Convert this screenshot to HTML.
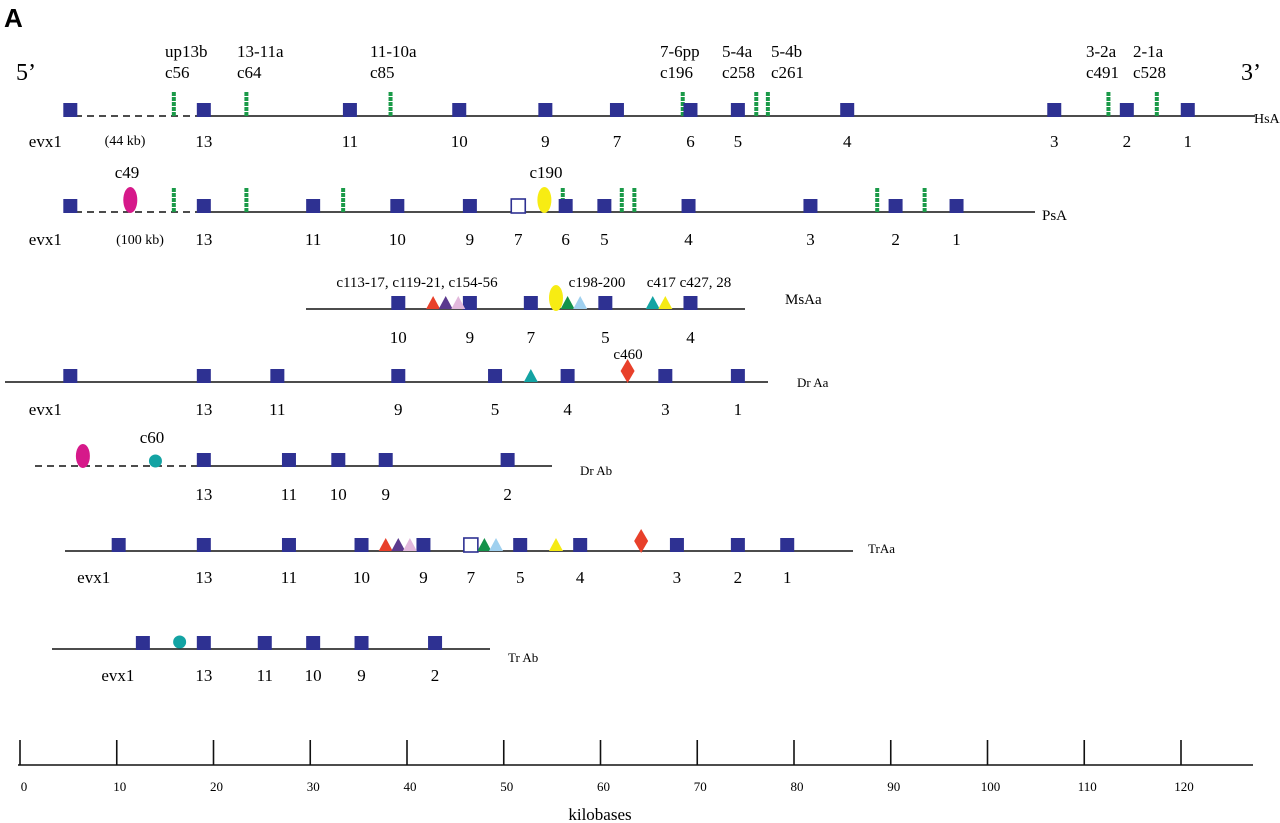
<!DOCTYPE html>
<html><head><meta charset="utf-8"><style>
html,body{margin:0;padding:0;background:#fff;}
svg{display:block;font-family:"Liberation Serif",serif;}
</style></head><body>
<svg id="fig" width="1280" height="823" viewBox="0 0 1280 823" xmlns="http://www.w3.org/2000/svg">
<text x="4" y="27" font-family="Liberation Sans,sans-serif" font-weight="bold" font-size="26">A</text>
<text x="16" y="80" font-size="24">5’</text>
<text x="1241" y="80" font-size="24">3’</text>
<g id="rows"></g>
<g id="axis"></g>
</svg>
<script>
// axis data
const tickValues=[0,10,20,30,40,50,60,70,80,90,100,110,120];
// rows: exon positions (kb), labels
const hsExons=[5.2,19.0,34.1,45.4,54.3,61.7,69.3,74.2,85.5,106.9,114.4,120.7];
const hsLabels=["evx1","13","11","10","9","7","6","5","4","3","2","1"];
const hsCNS=[15.9,23.4,38.3,68.5,76.1,77.3,112.5,117.5];
const hsCNSLabels=[["up13b","c56",165],["13-11a","c64",237],["11-10a","c85",370],["7-6pp","c196",660],["5-4a","c258",722],["5-4b","c261",771],["3-2a","c491",1086],["2-1a","c528",1133]];
const psExons=[5.2,19.0,30.3,39.0,46.5,51.5,56.4,60.4,69.1,81.7,90.5,96.8];
const psLabels=["evx1","13","11","10","9","7","6","5","4","3","2","1"];
const psHollow=[51.5];
const psCNS=[15.9,23.4,33.4,56.1,62.2,63.5,88.6,93.5];
const msExons=[39.1,46.5,52.8,60.5,69.3];
const msLabels=["10","9","7","5","4"];
const msTri=[42.7,44.0,45.3,56.6,57.9,65.4,66.7];
const msTriCol=["#e8402a","#5b3a8e","#e2b8dc","#14924a","#9fd0ef","#13a3a3","#f5ea14"];
const drAaExons=[5.2,19.0,26.6,39.1,49.1,56.6,66.7,74.2];
const drAaLabels=["evx1","13","11","9","5","4","3","1"];
const drAbExons=[19.0,27.8,32.9,37.8,50.4];
const drAbLabels=["13","11","10","9","2"];
const trAaExons=[10.2,19.0,27.8,35.3,41.7,46.6,51.7,57.9,67.9,74.2,79.3];
const trAaLabels=["evx1","13","11","10","9","7","5","4","3","2","1"];
const trAaHollow=[46.6];
const trAaTri=[37.8,39.1,40.3,48.0,49.2,55.4];
const trAaTriCol=["#e8402a","#5b3a8e","#e2b8dc","#14924a","#9fd0ef","#f5ea14"];
const trAbExons=[12.7,19.0,25.3,30.3,35.3,42.9];
const trAbLabels=["evx1","13","11","10","9","2"];

const X=kb=>20+kb*9.675;
const NS="http://www.w3.org/2000/svg";
const rows=document.getElementById('rows');
function mk(tag,attrs,parent,txt){const e=document.createElementNS(NS,tag);for(const k in attrs)e.setAttribute(k,attrs[k]);if(txt!==undefined)e.textContent=txt;(parent||rows).appendChild(e);return e;}
function line(x1,x2,y,dashed,name){const e=mk('line',{x1,x2,y1:y,y2:y,stroke:'#111','stroke-width':1.6,'stroke-dasharray':dashed?'7,5':'none'});

}
function exons(arr,labels,y,ly,hollow,name){arr.forEach((v,i)=>{const h=hollow&&hollow.includes(v);
const r=mk('rect',{x:X(v)-7,y:y-13,width:14,height:14,fill:h?'#fff':'#2e3192',stroke:'#2e3192','stroke-width':h?1.6:0});


const t=mk('text',{x:X(v)-(labels[i]==='evx1'?25:0),y:ly,'text-anchor':'middle','font-size':17},rows,labels[i]);

});}
function cns(arr,y,name){arr.forEach(v=>{const r=mk('line',{x1:X(v),x2:X(v),y1:y-24,y2:y,stroke:'#1a9a48','stroke-width':4,'stroke-dasharray':'4,1'});

});}
function tri(arr,cols,y,name){arr.forEach((v,i)=>{const x=X(v);const p=mk('polygon',{points:`${x-7},${y} ${x+7},${y} ${x},${y-13}`,fill:cols[i]});

});}
function txt(x,y,s,size,name,anchor){const t=mk('text',{x,y,'font-size':size,'text-anchor':anchor||'middle'},rows,s);

}
function ell(kb,y,rx,ry,col,name){const e=mk('ellipse',{cx:X(kb),cy:y,rx,ry,fill:col});

}
function diamond(kb,y,name){const x=X(kb);const p=mk('polygon',{points:`${x},${y-12} ${x+7},${y} ${x},${y+12} ${x-7},${y}`,fill:'#e8402a'});

}

// HsA
line(75,200,116,true,'hsa-gap-line');line(200,1255,116,false,'hsa-line');
cns(hsCNS,116,'hsa');exons(hsExons,hsLabels,116,147,null,'hsa');
hsCNSLabels.forEach(l=>{txt(l[2],57,l[0],17,'hsa-cns-name','start');txt(l[2],78,l[1],17,'hsa-cns-id','start');});
txt(125,145,'(44 kb)',14,'hsa-gap-size');txt(1254,123,'HsA',14,'hsa-label','start');
// PsA
line(75,200,212,true,'psa-gap-line');line(200,1035,212,false,'psa-line');
cns(psCNS,212,'psa');exons(psExons,psLabels,212,245,psHollow,'psa');
ell(11.4,200,7,13,'#d6198a','psa-c49');ell(54.2,200,7,13,'#f7ec13','psa-c190');
txt(127,178,'c49',17,'psa-c49-label');txt(546,178,'c190',17,'psa-c190-label');
txt(140,244,'(100 kb)',14,'psa-gap-size');txt(1042,220,'PsA',15,'psa-label','start');
// MsAa
line(306,745,309,false,'msaa-line');exons(msExons,msLabels,309,343,null,'msaa');
tri(msTri,msTriCol,309,'msaa');ell(55.4,298,7,13,'#f7ec13','msaa-yellow-ellipse');
txt(417,287,'c113-17, c119-21, c154-56',15,'msaa-cns-ids');txt(597,287,'c198-200',15,'msaa-cns-ids2');txt(689,287,'c417 c427, 28',15,'msaa-cns-ids3');
txt(785,304,'MsAa',15,'msaa-label','start');
// Dr Aa
line(5,768,382,false,'draa-line');exons(drAaExons,drAaLabels,382,415,null,'draa');
tri([52.8],['#13a3a3'],382,'draa');diamond(62.8,371,'draa-c460');txt(628,359,'c460',15,'draa-c460-label');
txt(797,387,'Dr Aa',13,'draa-label','start');
// Dr Ab
line(35,195,466,true,'drab-gap-line');line(195,552,466,false,'drab-line');exons(drAbExons,drAbLabels,466,500,null,'drab');
ell(6.5,456,7,12,'#d6198a','drab-magenta');ell(14.0,461,6.5,6.5,'#13a3a3','drab-c60');txt(152,443,'c60',17,'drab-c60-label');
txt(580,475,'Dr Ab',13,'drab-label','start');
// TrAa
line(65,853,551,false,'traa-line');exons(trAaExons,trAaLabels,551,583,trAaHollow,'traa');
tri(trAaTri,trAaTriCol,551,'traa');diamond(64.2,541,'traa-diamond');
txt(868,553,'TrAa',13,'traa-label','start');
// Tr Ab
line(52,490,649,false,'trab-line');exons(trAbExons,trAbLabels,649,681,null,'trab');
ell(16.5,642,6.5,6.5,'#13a3a3','trab-circle');
txt(508,662,'Tr Ab',13,'trab-label','start');

// axis
const ax=document.getElementById('axis');
const a=mk('line',{x1:18,x2:1253,y1:765,y2:765,stroke:'#111','stroke-width':1.6},ax);


tickValues.forEach(v=>{const t=mk('line',{x1:X(v),x2:X(v),y1:740,y2:765,stroke:'#111','stroke-width':1.6},ax);


const l=mk('text',{x:X(v)+(v===0?4:3),y:791,'text-anchor':'middle','font-size':13},ax,String(v));

});
const at=mk('text',{x:600,y:820,'text-anchor':'middle','font-size':17},ax,'kilobases');


</script>
</body></html>
